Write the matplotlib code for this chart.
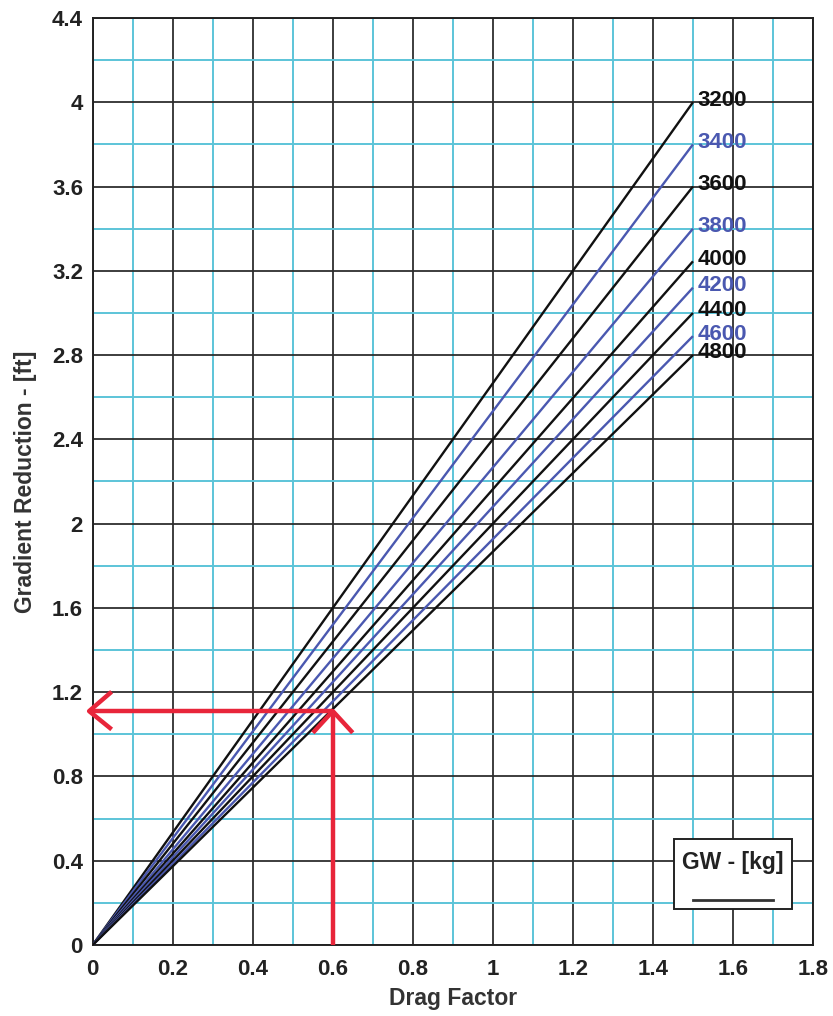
import matplotlib
matplotlib.use("Agg")
import matplotlib.pyplot as plt
from matplotlib.patches import Rectangle
from matplotlib.ticker import MultipleLocator

plt.rcParams['font.family'] = ['Liberation Sans', 'DejaVu Sans']
plt.rcParams['font.weight'] = 'bold'

# ---- data ----
weights = [3200, 3400, 3600, 3800, 4000, 4200, 4400, 4600, 4800]
drag_pts = [0.0, 1.5]
grad_end = [4.0, 3.8, 3.6, 3.4, 3.245, 3.12, 3.0, 2.89, 2.8]
x_ticks = [0, 0.2, 0.4, 0.6, 0.8, 1.0, 1.2, 1.4, 1.6, 1.8]
x_tick_labels = ['0', '0.2', '0.4', '0.6', '0.8', '1', '1.2', '1.4', '1.6', '1.8']
y_ticks = [0, 0.4, 0.8, 1.2, 1.6, 2.0, 2.4, 2.8, 3.2, 3.6, 4.0, 4.4]
y_tick_labels = ['0', '0.4', '0.8', '1.2', '1.6', '2', '2.4', '2.8', '3.2', '3.6', '4', '4.4']
read_x = 0.6
read_y = 1.11

BLACK = '#111111'
BLUE = '#4a58b0'
CYAN = '#5cc4d8'
GRID_DARK = '#2e2e2e'
RED = '#e8253a'

fig = plt.figure(figsize=(8.33, 10.16), dpi=100)
ax = fig.add_axes([0.1113, 0.0699, 0.8647, 0.9124])
ax.set_xlim(0, 1.8)
ax.set_ylim(0, 4.4)

ax.xaxis.set_minor_locator(MultipleLocator(0.1))
ax.yaxis.set_minor_locator(MultipleLocator(0.2))
ax.set_xticks(x_ticks)
ax.set_xticklabels(x_tick_labels)
ax.set_yticks(y_ticks)
ax.set_yticklabels(y_tick_labels)
ax.grid(which='minor', color=CYAN, lw=1.4, zorder=0)
ax.grid(which='major', color=GRID_DARK, lw=1.3, zorder=0.5)
ax.set_axisbelow(True)
ax.tick_params(which='both', direction='in', length=0)
ax.tick_params(axis='x', labelsize=16, pad=10)
ax.tick_params(axis='y', labelsize=16, pad=7)
for lab in ax.get_xticklabels() + ax.get_yticklabels():
    lab.set_fontweight('bold')
    lab.set_color('#222222')
for sp in ax.spines.values():
    sp.set_linewidth(1.4)
    sp.set_color('#222222')

for i, (w, g) in enumerate(zip(weights, grad_end)):
    col = BLACK if i % 2 == 0 else BLUE
    ax.plot(drag_pts, [0, g], color=col, lw=1.7, zorder=3, solid_capstyle='butt')
    ax.text(drag_pts[-1] + 0.012, g + 0.01, str(w), color=col, fontsize=16,
            fontweight='bold', ha='left', va='center', zorder=4)

# red reading arrows
arm_dx, arm_dy = 0.046, 0.095
ax.plot([read_x, read_x], [0, read_y], color=RED, lw=3.2, zorder=5,
        solid_capstyle='butt', clip_on=False)
ax.plot([read_x - arm_dx, read_x, read_x + arm_dx],
        [read_y - arm_dy, read_y, read_y - arm_dy], color=RED, lw=3.2, zorder=5,
        clip_on=False)
tip_x = -0.009
ax.plot([read_x, tip_x], [read_y, read_y], color=RED, lw=3.2, zorder=5,
        clip_on=False, solid_capstyle='butt')
ax.plot([tip_x + 0.052, tip_x, tip_x + 0.052],
        [read_y + 0.085, read_y, read_y - 0.08], color=RED, lw=3.2, zorder=5,
        clip_on=False)

# legend box
box = Rectangle((1.4525, 0.171), 0.2945, 0.332, facecolor='white',
                edgecolor='#222222', lw=1.4, zorder=6)
ax.add_patch(box)
ax.text(1.6, 0.392, 'GW - [kg]', fontsize=16.5, fontweight='bold',
        color='#222222', ha='center', va='center', zorder=7)
ax.plot([1.50, 1.70], [0.214, 0.214], color='#333333', lw=2, zorder=7)

ax.set_xlabel('Drag Factor', fontsize=16.5, fontweight='bold', color='#333333',
              labelpad=5)
ax.set_ylabel('Gradient Reduction - [ft]', fontsize=16.5, fontweight='bold',
              color='#333333', labelpad=11)

fig.savefig('out.png', dpi=100)
